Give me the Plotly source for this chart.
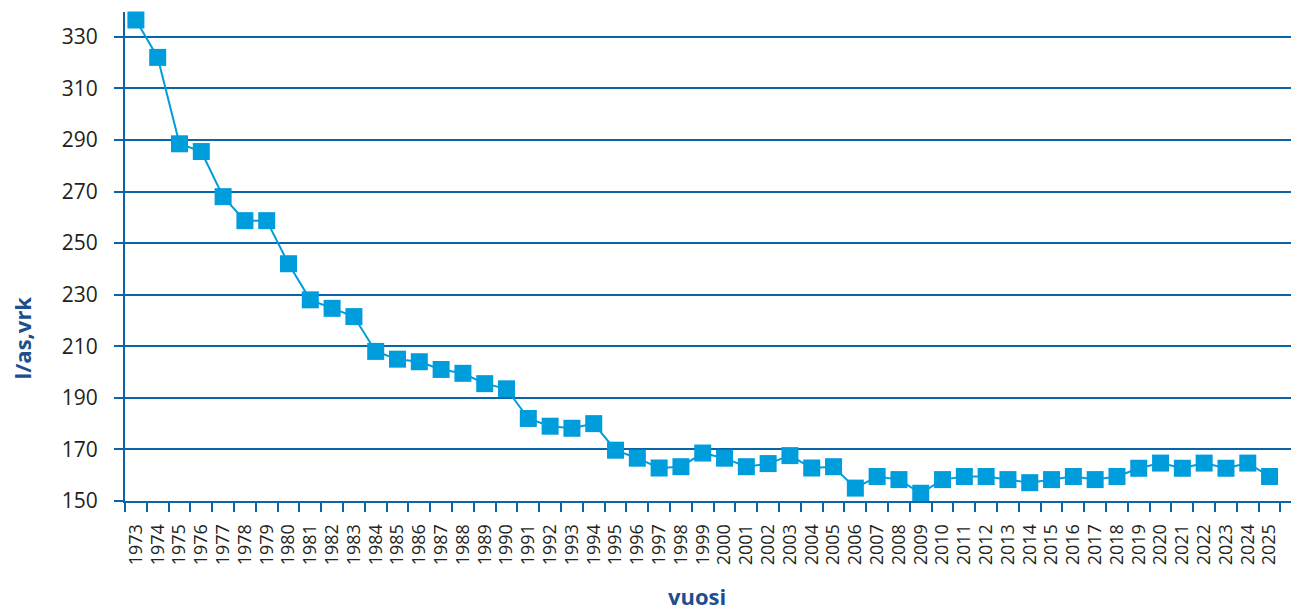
import plotly.graph_objects as go

years = [str(y) for y in range(1973, 2026)]
values = [336.5, 322, 288.5, 285.5, 268, 258.7, 258.7, 242, 228, 224.7, 221.5,
          208, 205, 204, 201, 199.5, 195.5, 193.5, 182, 179, 178.2, 180,
          169.7, 166.6, 162.8, 163.3, 168.6, 166.6, 163.3, 164.5, 167.6, 162.8, 163.3,
          155, 159.5, 158.3, 153, 158.3, 159.5, 159.5, 158.3, 157.1, 158.3, 159.5,
          158.3, 159.5, 162.7, 164.7, 162.7, 164.7, 162.7, 164.7, 159.5]
y_ticks = [150, 170, 190, 210, 230, 250, 270, 290, 310, 330]

axis_blue = "#0a64a8"
mark_blue = "#009ddc"
title_blue = "#1d4f8e"
text_dark = "#231f20"

fig = go.Figure()
fig.add_trace(go.Scatter(
    x=years, y=values, mode="lines+markers",
    line=dict(color=mark_blue, width=2),
    marker=dict(symbol="square", size=17, color=mark_blue),
    cliponaxis=False,
))

fig.update_layout(
    width=1291, height=604,
    margin=dict(l=117, r=0, t=4, b=111, autoexpand=False),
    plot_bgcolor="white", paper_bgcolor="white",
    showlegend=False,
    font=dict(family="Open Sans", color=text_dark),
    xaxis=dict(
        type="category", tickson="boundaries", range=[-0.5, 53.35],
        tickmode="array", tickvals=years, ticktext=years,
        ticks="outside", ticklen=9, tickwidth=2, tickcolor=axis_blue,
        showline=True, linewidth=2, linecolor=axis_blue,
        showgrid=False, tickangle=-90, automargin=False,
        ticklabelstandoff=14,
        tickfont=dict(size=18, family="Open Sans", color=text_dark),
    ),
    yaxis=dict(
        range=[150, 339.6], tickvals=y_ticks,
        ticks="outside", ticklen=9, tickwidth=2, tickcolor=axis_blue,
        showline=True, linewidth=2, linecolor=axis_blue,
        showgrid=True, gridcolor=axis_blue, gridwidth=2, zeroline=False,
        ticklabelstandoff=12, automargin=False,
        tickfont=dict(size=21, family="Open Sans", color=text_dark),
    ),
    annotations=[
        dict(text="<b>l/as,vrk</b>", xref="paper", yref="paper",
             x=-0.0875, y=0.333, xanchor="center", yanchor="middle",
             showarrow=False, textangle=-90,
             font=dict(size=22, color=title_blue, family="Open Sans")),
        dict(text="<b>vuosi</b>", xref="paper", yref="paper",
             x=0.487, y=-0.195, xanchor="center", yanchor="middle",
             showarrow=False,
             font=dict(size=22, color=title_blue, family="Open Sans")),
    ],
)

fig.write_html("out.html")
